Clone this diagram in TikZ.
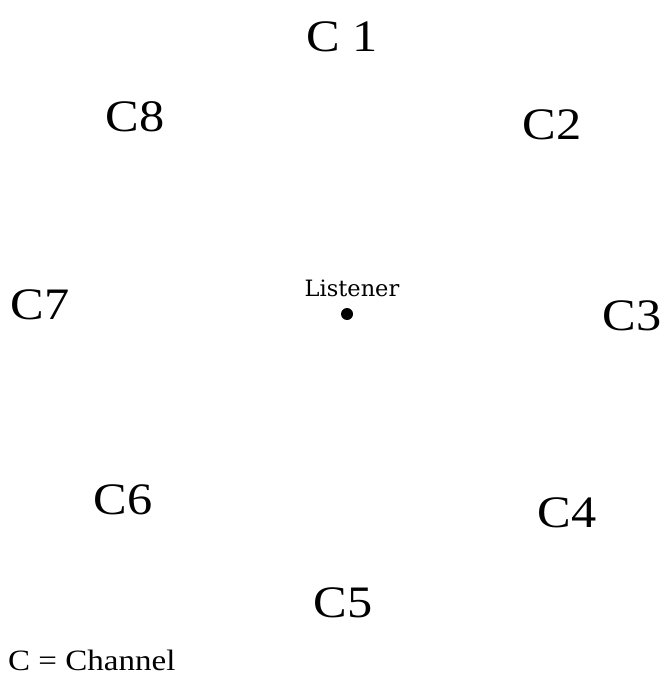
\documentclass[tikz,border=0pt]{standalone}
\usepackage{fontspec}
\setmainfont{Liberation Serif}
\newfontfamily\widefont[FakeStretch=1.12]{Liberation Serif}
\newfontfamily\slabfont{DejaVu Serif}
\begin{document}
\begin{tikzpicture}[x=1pt,y=-1pt,
  chan/.style={inner sep=0pt,font=\widefont\fontsize{45}{49}\selectfont},
  small/.style={inner sep=0pt,font=\slabfont\fontsize{22.5}{26}\selectfont},
  legend/.style={inner sep=0pt,anchor=west,font=\widefont\fontsize{29.5}{33}\selectfont}]
\useasboundingbox[fill=white] (0,0) rectangle (661,676);
% channels around the listener
\node[chan] (c1) at (342,37) {C 1};
\node[chan] (c2) at (552,125) {C2};
\node[chan] (c3) at (632,316) {C3};
\node[chan] (c4) at (567,513) {C4};
\node[chan] (c5) at (343,603) {C5};
\node[chan] (c6) at (123,500) {C6};
\node[chan] (c7) at (40,305) {C7};
\node[chan] (c8) at (135,117) {C8};
% listener position
\node[small] (lab) at (352,288) {Listener};
\fill (347,314) circle (6) coordinate (lis);
% legend
\node[legend] (key) at (8,660) {C = Channel};
\end{tikzpicture}
\end{document}
